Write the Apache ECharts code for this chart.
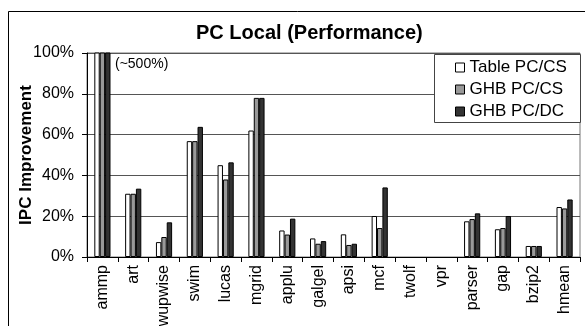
<!DOCTYPE html>
<html>
<head>
<meta charset="utf-8">
<script src="https://cdn.jsdelivr.net/npm/echarts@6/dist/echarts.min.js"></script>
<style>
  html, body { margin: 0; padding: 0; background: #fff; }
  #chart { width: 585px; height: 326px; }
</style>
</head>
<body>
<div id="chart"></div>
<script>
// Benchmarks and IPC improvement (%) for each prefetcher configuration
var categories = ['ammp', 'art', 'wupwise', 'swim', 'lucas', 'mgrid', 'applu', 'galgel',
                  'apsi', 'mcf', 'twolf', 'vpr', 'parser', 'gap', 'bzip2', 'hmean'];
var tablePcCs = [500, 31, 7.3, 56.8, 45, 62, 13, 9.1, 11.1, 20.1, null, null, 17.5, 13.6, 5.4, 24.5];
var ghbPcCs   = [500, 31, 9.8, 56.8, 38, 78, 11, 6.5, 5.9, 14.2, null, null, 18.6, 14.2, 5.4, 23.8];
var ghbPcDc   = [500, 33.5, 17, 63.8, 46.4, 78, 18.8, 7.8, 6.5, 34.1, null, null, 21.4, 20.1, 5.4, 28.2];
var yTicks = [0, 20, 40, 60, 80, 100];

var FONT = 'Liberation Sans, Arial, sans-serif';
var chart = echarts.init(document.getElementById('chart'));

function barSeries(name, data, color) {
  return {
    name: name,
    type: 'bar',
    data: data,
    barWidth: '17.5%',
    barGap: '0%',
    clip: true,
    itemStyle: { color: color, borderColor: '#000', borderWidth: 1 }
  };
}

chart.setOption({
  animation: false,
  backgroundColor: '#fff',
  title: {
    text: 'PC Local (Performance)',
    left: 191,
    top: 18,
    textStyle: { fontFamily: FONT, fontSize: 20, fontWeight: 'bold', color: '#000' }
  },
  grid: {
    left: 87, right: 5, top: 53, bottom: 69,
    outerBoundsMode: 'none',
    containLabel: false,
    show: true, borderColor: '#777', borderWidth: 1, backgroundColor: 'transparent'
  },
  legend: {
    orient: 'vertical',
    left: 455,
    top: 59,
    itemWidth: 9,
    itemHeight: 9,
    itemGap: 5,
    itemStyle: { borderColor: '#000', borderWidth: 1 },
    padding: 0,
    icon: 'rect',
    textStyle: { fontFamily: FONT, fontSize: 17, color: '#000', lineHeight: 15 },
    data: ['Table PC/CS', 'GHB PC/CS', 'GHB PC/DC']
  },
  xAxis: {
    type: 'category',
    data: categories,
    axisLine: { lineStyle: { color: '#000', width: 1 } },
    axisTick: { show: true, length: 5, lineStyle: { color: '#000' } },
    axisLabel: {
      rotate: 90, interval: 0, margin: 8, hideOverlap: false,
      fontFamily: FONT, fontSize: 16, color: '#000'
    }
  },
  yAxis: {
    type: 'value',
    min: 0, max: 100, interval: 20,
    name: 'IPC Improvement',
    nameLocation: 'middle',
    nameGap: 52,
    nameMoveOverlap: false,
    nameTextStyle: { fontFamily: FONT, fontSize: 17, fontWeight: 'bold', color: '#000' },
    axisLine: { show: true, lineStyle: { color: '#000', width: 1 } },
    axisTick: { show: true, length: 5, lineStyle: { color: '#000' } },
    axisLabel: {
      margin: 13,
      fontFamily: FONT, fontSize: 16, color: '#000',
      formatter: function (v) { return yTicks.indexOf(v) >= 0 ? v + '%' : ''; }
    },
    splitLine: { show: true, lineStyle: { color: '#555', width: 1 } }
  },
  series: [
    barSeries('Table PC/CS', tablePcCs, '#ffffff'),
    barSeries('GHB PC/CS', ghbPcCs, '#999999'),
    barSeries('GHB PC/DC', ghbPcDc, '#333333')
  ],
  graphic: [
    {
      // outer frame
      type: 'rect', z: 0, silent: true,
      shape: { x: 8.5, y: 11.5, width: 620, height: 400 },
      style: { fill: null, stroke: '#000', lineWidth: 1 }
    },
    {
      // legend box
      type: 'rect', z: 3, silent: true,
      shape: { x: 434.5, y: 54.5, width: 146, height: 68 },
      style: { fill: '#fff', stroke: '#444', lineWidth: 1 }
    },
    {
      // off-scale annotation for ammp
      type: 'text', z: 5, silent: true,
      left: 115, top: 57,
      style: {
        text: '(~' + ghbPcDc[0] + '%)',
        font: '14px ' + FONT,
        fill: '#000'
      }
    }
  ]
});
</script>
</body>
</html>
